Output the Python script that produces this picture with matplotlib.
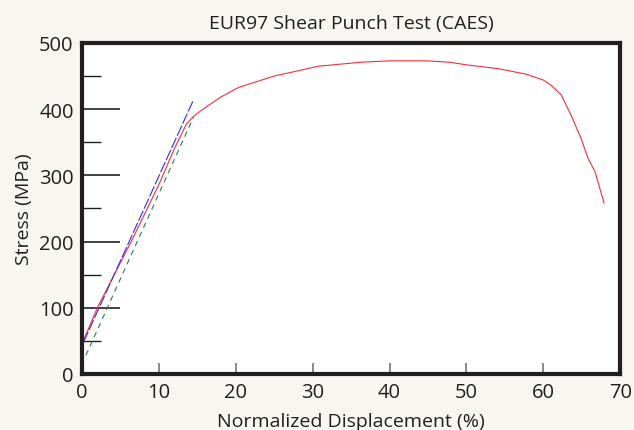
import matplotlib
matplotlib.use("Agg")
import matplotlib.pyplot as plt
from matplotlib.ticker import MultipleLocator

plt.rcParams['font.family'] = ['Open Sans', 'DejaVu Sans']

# red measured curve
disp = [0.1, 2.0, 6.4, 10.0, 12.0, 13.6, 14.6, 15.5, 16.5, 18.0, 20.4, 25.0,
        30.8, 36.4, 40.0, 44.7, 47.7, 50.0, 54.2, 57.7, 60.0, 61.0, 62.3,
        63.6, 64.9, 65.8, 66.7, 67.9]
stress = [48, 100, 200, 286, 340, 378, 390, 398, 406, 418, 433, 450,
          465, 471, 473, 473, 471, 467, 461, 453, 444, 436, 422,
          391, 356, 326, 306, 258]

# elastic fit (blue) and offset line (green)
fit_x = [0.2, 14.5]
fit_y = [48, 414]
off_x = [0.5, 14.5]
off_y = [28, 388]

bg = '#f7f6f1'
fig = plt.figure(figsize=(6.34, 4.31), dpi=100, facecolor=bg)
ax = fig.add_axes([0.1293, 0.130, 0.849, 0.768])
ax.set_facecolor('white')

ax.plot(disp, stress, color='#ff2a3a', lw=0.8)
ax.plot(fit_x, fit_y, color='#2b2bff', lw=0.8, dashes=(10, 2))
ax.plot(off_x, off_y, color='#2e7d4f', lw=0.8, dashes=(5, 4))

ax.set_xlim(0, 70)
ax.set_ylim(0, 500)

for s in ax.spines.values():
    s.set_linewidth(3)
    s.set_color('#231f20')

ax.xaxis.set_major_locator(MultipleLocator(10))
ax.yaxis.set_major_locator(MultipleLocator(100))
ax.yaxis.set_minor_locator(MultipleLocator(50))

ax.tick_params(axis='y', which='major', direction='in', length=27, width=1.2,
               color='#231f20', labelsize=14.5, pad=6, labelcolor='#231f20')
ax.tick_params(axis='y', which='minor', direction='in', length=14, width=1.0,
               color='#231f20')
ax.tick_params(axis='x', which='major', direction='in', length=8, width=1.2,
               color='#777777', labelsize=14.5, pad=6, labelcolor='#231f20')

ax.set_title('EUR97 Shear Punch Test (CAES)', fontsize=14, color='#231f20', pad=11)
ax.set_xlabel('Normalized Displacement (%)', fontsize=14, color='#231f20', labelpad=7)
ax.set_ylabel('Stress (MPa)', fontsize=14, color='#231f20', labelpad=4)

fig.savefig('out.png', dpi=100, facecolor=bg)
